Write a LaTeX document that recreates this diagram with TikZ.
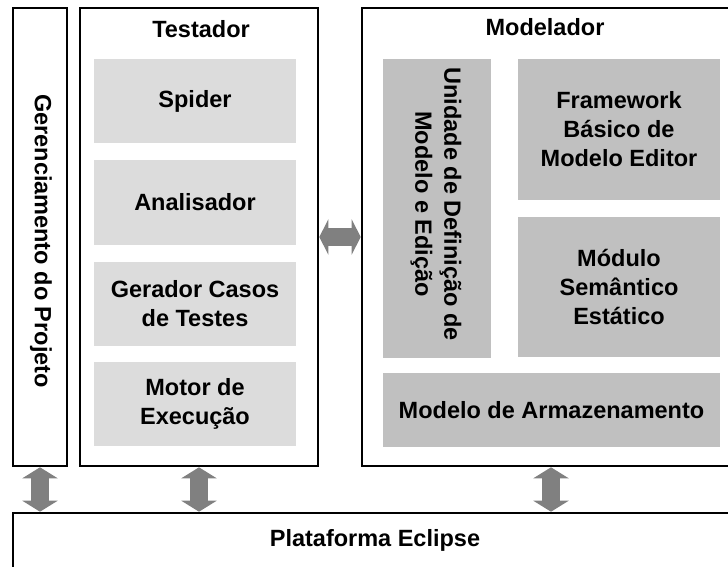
\documentclass[tikz,border=0pt]{standalone}
\usepackage{fontspec}
\setmainfont{Liberation Sans}
\usetikzlibrary{arrows.meta}
\definecolor{lightbox}{HTML}{DCDCDC}
\definecolor{darkbox}{HTML}{C0C0C0}
\definecolor{arrowgray}{HTML}{808080}
\begin{document}
\begin{tikzpicture}[x=1pt,y=-1pt,
  frame/.style={draw=black, line width=2.6pt, inner sep=0pt},
  txt/.style={font=\bfseries\fontsize{23.5}{29}\selectfont, align=center, inner sep=0pt},
  lbox/.style={txt, fill=lightbox},
  dbox/.style={txt, fill=darkbox},
  fatarrow/.style={draw=arrowgray, line width=18pt,
    {Triangle[length=11pt,width=35pt,fill=arrowgray]}-{Triangle[length=11pt,width=35pt,fill=arrowgray]}},
  fatarrowh/.style={draw=arrowgray, line width=18pt,
    {Triangle[length=9pt,width=35pt,fill=arrowgray]}-{Triangle[length=9pt,width=35pt,fill=arrowgray]}}
]
\clip (0,0) rectangle (728,566);
\fill[white] (0,0) rectangle (728,566);

% outer frames (named, drawn later on top of arrows)
\path (40,237) node[frame, draw=none, minimum width=54pt, minimum height=458pt] (ger) {};
\path (199,237) node[frame, draw=none, minimum width=238pt, minimum height=458pt] (test) {};
\path (551,237) node[frame, draw=none, minimum width=378pt, minimum height=458pt] (model) {};
\path (376.5,551.5) node[frame, draw=none, minimum width=727pt, minimum height=77pt] (plat) {};

% arrows
\draw[fatarrow] (ger.south) -- (ger.south |- plat.north);
\draw[fatarrow] (test.south) -- (test.south |- plat.north);
\draw[fatarrow] (model.south) -- (model.south |- plat.north);
\draw[fatarrowh] (test.east) -- (model.west);

% frames
\node[frame, minimum width=54pt, minimum height=458pt] at (ger) {};
\node[frame, minimum width=238pt, minimum height=458pt] at (test) {};
\node[frame, minimum width=378pt, minimum height=458pt] at (model) {};
\node[frame, minimum width=727pt, minimum height=77pt] at (plat) {};

% titles
\node[txt, rotate=-90] (gertxt) at (41,241) {Gerenciamento do Projeto};
\node[txt] (testtxt) at (201,29) {Testador};
\node[txt] (modeltxt) at (545,27) {Modelador};
\node[txt] (plattxt) at (375,540) {Plataforma Eclipse};

% Testador components
\node[lbox, minimum width=202pt, minimum height=84pt] (spider) at (195,101) {Spider};
\node[lbox, minimum width=202pt, minimum height=85pt] (anal) at (195,202.5) {Analisador};
\node[lbox, minimum width=202pt, minimum height=84pt] (ger2) at (195,304) {Gerador Casos\\de Testes};
\node[lbox, minimum width=202pt, minimum height=84pt] (motor) at (195,404) {Motor de\\Execução};

% Modelador components
\node[dbox, minimum width=108pt, minimum height=299pt] (unid) at (437,208.5) {};
\node[txt, rotate=-90] (unidtxt) at (436,204) {Unidade de Definição de\\Modelo e Edição};
\node[dbox, minimum width=202pt, minimum height=141pt] (frame) at (619,129.5) {Framework\\Básico de\\Modelo Editor};
\node[dbox, minimum width=202pt, minimum height=140pt] (mod) at (619,287) {Módulo\\Semântico\\Estático};
\node[dbox, minimum width=337pt, minimum height=74pt] (arm) at (551.5,410) {Modelo de Armazenamento};
\end{tikzpicture}
\end{document}
